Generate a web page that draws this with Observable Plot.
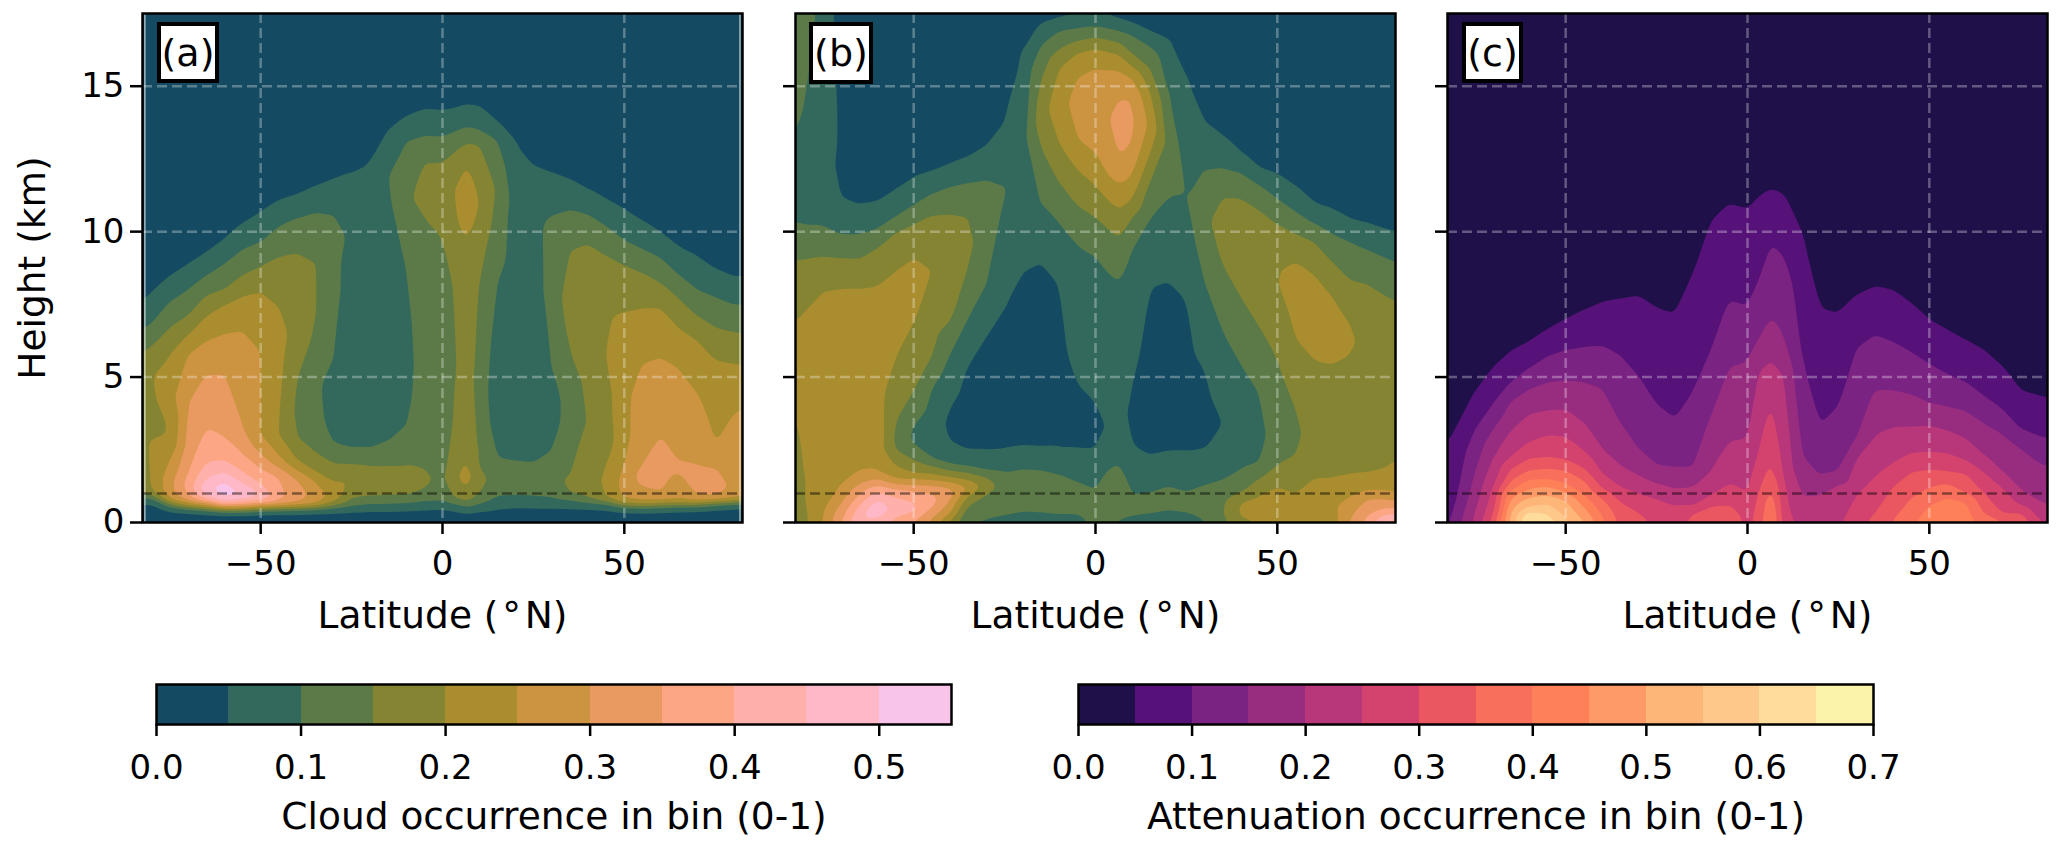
<!DOCTYPE html>
<html><head><meta charset="utf-8">
<style>
html,body{margin:0;background:#fff;font-family:"DejaVu Sans",sans-serif}
#page{position:relative;width:2067px;height:845px;overflow:hidden}
.tag{position:absolute;box-sizing:border-box;background:#fff;border:4px solid #000;font-size:38px;color:#000;display:flex;align-items:center;justify-content:center;line-height:1}
</style>
<script src="https://cdn.jsdelivr.net/npm/d3@7"></script>
<script src="https://cdn.jsdelivr.net/npm/@observablehq/plot@0.6"></script>
</head><body><div id="page"></div>
<script>
const latitudes=[-82.5,-80,-75,-70,-65,-60,-55,-50,-45,-40,-35,-30,-25,-20,-15,-10,-5,0,3,6.5,10,15,20,25,30,35,40,45,50,55,60,65,70,75,80,82.5];
// Each profile: height (km), occurrence (%), height, occurrence, ...
const cloudAll=[
[0,2,.7,5,.85,10,1,15,3,18,5.86,15,6.63,10,7.55,5,9,3,17.5,1],
[0,2,.72,5,.82,10,.92,15,1.1,20,1.5,21,2.6,21,3.2,19,4.2,19,5,20,6.07,15,6.84,10,7.83,5,9.5,3,17.5,1],
[0,2,.45,5,.55,10,.62,15,.7,20,.82,25,1,28,1.5,28,2.08,25,2.7,21,3.2,20,4.4,23,5.75,20,6.7,15,7.6,10,8.4,5,10,3,17.5,1],
[0,2,.4,5,.47,10,.52,15,.58,20,.65,25,.75,30,.95,35,1.3,37,1.68,35,2.5,32,4.1,30,5.8,25,6.44,20,7.1,15,8,10,8.8,5,10.5,3,17.5,1],
[0,2,.36,5,.42,10,.47,15,.52,20,.58,25,.65,30,.72,35,.8,40,.9,45,1.2,49,1.5,45,2.04,40,3.23,35,5.1,30,6.27,25,7.1,20,7.8,15,8.5,10,9.2,5,11,3,17.5,1],
[0,2,.33,5,.38,10,.42,15,.46,20,.5,25,.55,30,.6,35,.66,40,.72,45,.85,50,1.1,53,1.4,50,1.73,45,2.13,40,2.94,35,5.1,30,6.5,25,7.5,20,8,15,8.9,10,9.65,5,12,3,17.5,1],
[0,2,.33,5,.38,10,.42,15,.46,20,.5,25,.56,30,.62,35,.7,40,.78,45,.95,49,1.1,50,1.2,47,1.33,45,1.73,40,2.37,35,3.3,30,6.6,25,7.8,20,8.5,15,9.4,10,10.2,5,12,3,17.5,1],
[0,2,.36,5,.41,10,.45,15,.5,20,.54,25,.6,30,.67,35,.75,40,.9,45,1.33,40,1.85,35,2.37,30,3,25,5.9,25,7.94,20,8.8,15,9.65,10,10.6,5,12.5,3,17.5,1],
[0,2,.38,5,.43,10,.47,15,.52,20,.56,25,.62,30,.7,35,1,36.5,1.56,35,1.88,30,2.3,25,3,20,4,20.5,6,22,7.4,20,9.15,15,10.2,10,11,5,13,3,17.5,1],
[0,3,.4,5,.44,10,.48,15,.53,20,.58,25,.65,30,1,33,1.48,30,1.8,25,2.13,20,2.94,15,4,14,4.9,15,7,18,9.3,15,10.5,10,11.2,5,13,3,17.5,1],
[0,3,.42,5,.47,10,.5,15,.55,20,.6,25,.8,28,1.2,26,1.45,25,1.73,20,2.42,15,3,12,5,11,6,14,7.2,15.2,8.9,15.2,9.5,13,10.7,10,11.5,5,13.5,3,17.5,1],
[0,3,.42,5,.5,10,.56,15,.7,20,1,24,1.39,20,2.04,15,2.7,10,4,8,5.7,10,8,12,9.5,12,10.6,10,11.75,5,13.5,3,17.5,1],
[0,3,.44,5,.55,10,.8,15,1.5,19,2.02,15,2.52,10,4,7,8,7,10,9,12,5,14,3,17.5,1],
[0,3,.45,5,.62,10,.87,15,1.4,18,1.96,15,2.52,10,4,6.5,8,7,11,7,12.3,5,14,3,17.5,1],
[0,3,.45,5,.62,10,.9,15,1.4,18,1.96,15,2.78,10,4,6.5,8,7.5,11,9,12,9.8,13.4,5,15,3,17.5,1],
[0,3,.47,5,.65,10,.93,15,1.4,19,1.94,15,3.34,10,5,8.5,7,9,8.8,10,11,14,13.1,10,13.9,5,15.5,3,17.5,1],
[0,3,.5,5,.7,10,1.16,15,1.5,16,1.79,15,3,13,6,12,8,13,10.5,15,11.5,17,12.4,15,13.3,10,14.15,5,16,3,17.5,1],
[0,3,.53,5,.7,10,1.5,14,3,12,6,12,8,13,9.86,15,11,17.5,12.4,15,13.27,10,14.1,5,16,3,17.5,1],
[0,3,.47,5,.64,10,.85,15,1.5,18.5,2.5,16.5,3.86,15,5.5,14,8.1,15,10,18,11.5,19.5,12.7,15,13.4,10,14.15,5,16,3,17.5,1],
[0,3,.36,5,.55,10,.67,15,1.16,20,1.6,22.5,2.2,20,3,18.5,5,18,8,19,9.7,20,11,24,12.3,20,13.05,15,13.6,10,14.3,5,16,3,17.5,1],
[0,3,.44,5,.6,10,.99,15,1.5,17,1.9,15,2.7,14.5,5,13,6.5,14,8.1,15,10,18,11,20,12,18,13,15,13.5,10,14.25,5,16,3,17.5,1],
[0,3,.5,5,.87,10,1.5,13,2.2,10,4,7,6,8,8.25,10,10,13,11.5,14.5,13.15,10,13.7,5,15.5,3,17.5,1],
[0,3,.56,5,.9,10,1.5,13,2.08,10,4,6.5,8,7,11,8,13,5,15,3,17.5,1],
[0,3,.55,5,.87,10,1.5,13,2.02,10,4,6.5,8,7,11,7.5,12.25,5,14,3,17.5,1],
[0,3,.56,5,.82,10,1.5,13.5,2.43,10,4,7,5.44,10,8,12.5,9.5,12.5,10.56,10,12,5,14,3,17.5,1],
[0,3,.55,5,.76,10,.99,15,1.5,16,1.62,15,3,13,4.5,13,5.86,15,7.5,17,9.37,15,10.77,10,11.75,5,13.5,3,17.5,1],
[0,3,.55,5,.68,10,.8,15,1.5,18,3,16,3.5,15.2,5,16,7.5,18.5,9.62,15,10.6,10,11.4,5,13,3,17.5,1],
[0,3,.52,5,.62,10,.72,15,.82,20,1.3,21,1.9,20,3,17,4,18,5.8,20,7.5,19,9.23,15,10.2,10,11.05,5,13,3,17.5,1],
[0,3,.45,5,.52,10,.58,15,.66,20,.78,25,1.3,27,2.08,25,3,24,5,24,6.2,22,7.27,20,8.88,15,9.7,10,10.7,5,12.5,3,17.5,1],
[0,3,.43,5,.5,10,.56,15,.62,20,.72,25,1.22,30,1.6,32,2.02,30,3,27,5.46,25,7.4,20,8.6,15,9.4,10,10.3,5,12,3,17.5,1],
[0,3,.45,5,.52,10,.58,15,.65,20,.75,25,1.04,30,2,33,3,30,5.7,25,7.4,20,8.25,15,9.1,10,9.9,5,12,3,17.5,1],
[0,3,.48,5,.54,10,.6,15,.67,20,.75,25,1.4,28,1.85,31,2.1,30,3,27,5.33,25,6.7,20,7.7,15,8.5,10,9.4,5,11,3,17.5,1],
[0,3,.5,5,.55,10,.6,15,.66,20,.74,25,.93,30,1.5,33,1.96,30,3,28,4.55,25,6.28,20,7.1,15,8,10,9.1,5,11,3,17.5,1],
[0,3,.55,5,.6,10,.65,15,.7,20,.77,25,.9,30,1.3,33,1.85,30,2.7,25,4,23,5.6,20,6.7,15,7.75,10,8.67,5,10,3,17.5,1],
[0,3,.6,5,.64,10,.68,15,.72,20,.8,25,1.2,29,2.5,27,3.74,25,4.6,23,5.46,20,6.56,15,7.5,10,8.4,5,10,3,17.5,1],
[0,3,.62,5,.66,10,.7,15,.74,20,.82,25,1.2,28,2.5,27,3.97,25,4.6,23,5.44,20,6.5,15,7.5,10,8.4,5,10,3,17.5,1]
];
const cloudIce=[
[17.5,13,13.3,10,11.5,8,10.3,10,9.05,15,7,20,5,21,3.76,20,2,18,0,17],
[17.5,13,14.3,10,12.5,8,10.2,10,9.05,15,7.3,20,4,22,1,20,0,19],
[17.5,8,12,6,10.2,10,9.15,15,8,20,5,23,2.5,21,1.5,23,.5,24,0,25],
[17.5,3,12.5,4.5,11.15,5,9.9,10,9.1,15,8.1,20,5,23,2.5,23,1.2,25,.64,30,.15,34,0,34],
[17.5,3,11.5,4,10.9,5,9.9,10,9.07,15,8.1,20,5,24,2.5,24,1.7,25,1.33,30,.95,35,.59,40,.15,44.5,0,45],
[17.5,3,11.5,4,11,5,10.07,10,9.45,15,8.2,20,5,23,2.5,23,1.77,25,1.5,30,1.27,35,1.04,40,.81,45,.45,49,.15,45,0,43],
[17.5,3,12,4,11.4,5,10.5,10,10,15,8.7,20,6.8,22,5.66,20,3.4,15,2.9,14,2.5,15,1.96,20,1.5,25,1.3,30,1.16,35,.87,40,.45,44,.18,40,0,38],
[17.5,3,13,4,11.8,5,10.9,10,10.27,15,9.13,20,8,21.5,6.85,20,4.47,15,3.34,10,2.95,9,2.65,10,2.16,15,1.68,20,1.5,25,1.27,30,1.1,35,.7,40,.45,41.5,.35,40,.05,35,0,35],
[17.5,3,13,4,12,5,11.3,10,10.6,15,8.7,20,7,18,5.66,15,4.6,10,3.5,7.5,2.16,10,1.96,15,1.65,20,1.47,25,1.27,30,1,35,.7,37,.5,35,.16,30,0,29],
[17.5,3,13.5,4,12.25,5,11.56,10,10.64,15,9,19,7.5,17,6.9,15,5.8,10,4.8,6.5,3.97,5,3.3,4,2.75,5,1.98,10,1.79,15,1.54,20,1.39,25,1.22,30,.9,32,.76,30,.28,25,.1,20,0,19],
[17.5,3,13.5,4,12.5,5,11.7,10,10.53,15,9.7,16.5,8.8,15,7.06,10,5.5,5,4,3.5,2.43,5,1.9,10,1.72,15,1.45,20,1.22,25.2,1.16,25,.93,20,.59,15,.2,10.5,0,10],
[17.5,3,14,4,12.9,5,11.8,10,10.8,13,9.5,11.5,8.2,10,7,7,6.5,5,4,3,2.43,5,1.77,10,1.56,15,1.3,18,.99,15,.4,11,.1,10,0,9.5],
[17.5,3,15,4,13.7,5,11.5,10.2,9.5,8,7.49,5,5,3,2.47,5,1.73,10,1.2,13.5,.22,10,0,8],
[17.5,3,16.1,5,13,8,9.5,7,8.68,5,5,3,2.57,5,1.85,10,1.2,13,.36,10,0,8],
[17.5,4,17.1,5,16.4,10,15.2,15,14,18,12.9,15,11,10,9.8,6,9,5,5,3,2.53,5,1.81,10,1.2,13,.32,10,0,8],
[17.5,4.5,17.3,5,16.9,10,16.27,15,15.6,20,14.5,23,13.05,20,11.7,15,10.3,10,9.2,7,8.26,5,5,3.5,2.53,5,1.65,10,1.1,12.5,.24,10,0,8],
[17.5,4.7,17.4,5,17,10,16.55,15,16.15,20,15.35,25,14.3,27,13.17,25,12.13,20,10.9,15,9.55,10,7,7,4.7,5,3.5,3.5,2.53,5,1.39,10,.9,12,.24,10,0,8],
[17.5,4.8,17.44,5,17.07,10,16.67,15,16.3,20,15.67,25,14,28,12.65,25,11.6,20,10.5,15,9.2,10,7,7,4.1,5,3.2,3.5,2.53,5,1.13,10,.6,12,0,11],
[17.5,4.8,17.4,5,17,10,16.6,15,16.2,20,15.6,25,14,29,12,25,11.15,20,10.16,15,8.7,10,6,7,4,6,3.3,5.2,2.5,7.5,1.77,10,1,13,.4,12,0,10.5],
[17.5,4,17.3,5,16.9,10,16.5,15,16.1,20,15.55,25,14.6,30,13.5,33,12.6,30,11.6,25,10.75,20,9.78,15,8.3,10,6,7,4,6.5,3,8,2.04,10,1.2,13,.6,13,.1,10,0,9.5],
[17.5,3.5,17.15,5,16.75,10,16.1,15,15.7,20,15.3,25,14.6,30,13.8,31,13.05,30,11.9,25,11.1,20,10.47,15,9.4,10,7,7,4.6,5,3.5,4,2.64,5,1.5,8.5,.93,10,.55,12,.24,10,0,8.5],
[17.5,3,16.84,5,16.38,10,15.58,15,14.8,20,13.7,24,12.7,20,11.8,15,10.5,10,9,6.5,8.1,5,5,3,2.25,5,1.5,8.5,.99,10,.65,12,.32,10,0,8],
[17.5,3,16.55,5,14.77,10,13,13.5,11.2,10,9.5,6.5,8.33,5,5,3,2.39,5,1.24,10,.8,12,.44,10,0,8],
[17.5,3.5,15.17,5,13,7.5,11.2,9.8,9,7,7.7,5,5,3.5,2.39,5,1.04,10,.7,12,.36,10,0,8],
[17.5,3.5,13.67,5,12.12,10,10.5,13.5,8.26,10,6.8,7,5.24,5,3.8,3.5,2.5,5,1.27,10,.7,13,.09,10,0,9.5],
[17.5,3.5,13.2,5,12.2,10,11.2,15,10,18,8.8,15,6.57,10,5,7.5,3.4,5,2.5,6,1.45,10,.8,14,.2,14.5,0,13],
[17.5,3,12.6,5,12.05,10,11.18,15,9.7,18,7.7,15,5.45,10,4,8,2.5,8.5,1.81,10,1,15,.76,20,.4,21,.13,20,0,18],
[17.5,3,12.05,5,11.63,10,10.79,15,9,18.5,6.7,15,4.47,10,3,8.5,2.02,10,1.5,15,.93,20,.4,22,0,20],
[17.5,3,11.84,5,11.14,10,10.3,15,8.82,20,8.26,20,7,17,5.59,15,3,12.5,1.99,15,1.22,20,.6,24,0,22],
[17.5,3,11.42,5,10.7,10,9.94,15,9.03,20,7.5,22,6.3,20,5,17,3.97,15,3.1,14,2.3,15,.99,20,.5,23,0,21],
[17.5,3,10.85,5,10.3,10,9.66,15,8.6,20,7,22.5,5.59,20,3,17,1.5,20,.6,23.5,0,22],
[17.5,3,10.65,5,9.94,10,8.96,15,7.84,20,6.5,22,5.45,20,3,17,1.5,20,.6,24,0,23],
[17.5,3,10.3,5,9.66,10,8.33,15,6.85,20,6.3,21,5.8,20,3,17,1.62,20,.87,25,.45,28,.12,30,0,30],
[17.5,3,10.15,5,9.38,10,8.2,15,6,18,3,17,1.68,20,1.1,25,.82,30,.24,35,0,37],
[17.5,3,9.94,5,9.1,10,7.84,15,5,18,3,17.5,1.85,20,1.08,25,.79,30,.47,35,.28,40,.09,45,0,46],
[17.5,3,9.87,5,8.96,10,7.65,15,5,18,3,18,2.14,20,.99,25,.76,30,.47,35,.3,40,.09,45,0,48]
];
const attenuation=[
[17.5,1,5,2,2.7,5,1,7,0,9],
[17.5,1,5,2.5,3.2,5,.76,10,0,13],
[17.5,1,6,2.5,4.43,5,3.17,10,1.68,15,.3,20,0,21],
[17.5,1,7,2.5,5.27,5,4.05,10,3.2,15,2.19,20,1.16,25,.18,30,0,33],
[17.5,1,7.5,3,5.84,5,4.82,10,4.19,15,3.17,20,2.25,25,1.85,30,1.45,35,1.1,40,.87,45,.41,50,0,52],
[17.5,1,8,3,6.15,5,5.31,10,4.6,15,3.72,20,2.77,25,2.19,30,1.79,35,1.47,40,1.16,45,.85,50,.55,55,.36,60,.16,65,0,67],
[17.5,1,8.5,3,6.57,5,5.73,10,4.82,15,3.86,20,3,25,2.23,30,1.85,35,1.47,40,1.24,45,.93,50,.64,55,.3,60,0,63],
[17.5,1,9,3,6.92,5,5.94,10,4.89,15,3.88,20,2.94,25,2.14,30,1.79,35,1.33,40,1.04,45,.76,50,.18,55,0,56],
[17.5,1,9,3,7.25,5,6.04,10,4.82,15,3.4,20,2.48,25,1.85,30,1.45,35,.93,40,.53,45,.07,50,0,50.5],
[17.5,1,9.5,3,7.53,5,6.08,10,4.6,15,2.5,20,1.68,25,1.16,30,.82,35,.24,40,0,41],
[17.5,1,9.5,3,7.65,5,5.73,10,3.41,15,1.95,20,1.22,25,.7,30,0,34],
[17.5,1,9.5,3,7.77,5,5.03,10,2.5,15,1.62,20,.99,25,.36,30,0,31],
[17.5,1,9.5,3,7.35,5,4.04,10,1.94,15,1.33,20,.82,25,0,29.5],
[17.5,1,9.5,3,7.16,5,3.55,10,1.87,15,1.16,20,.59,25,0,28],
[17.5,1,10.5,3,8.54,5,4.47,10,1.87,15,1.22,20,.53,25,.36,30,0,31],
[17.5,1,12,3,10.37,5,5.87,10,3.7,15,1.79,20,.93,25,.59,30,0,33.5],
[17.5,1,12.5,3,10.97,5,7.63,10,5.38,15,2.78,20,1.33,25,.62,30,0,34],
[17.5,1,12,3,10.79,5,7.42,10,5.52,15,2.85,20,1,25,.3,28,0,28],
[17.5,1,12.5,3,11.18,5,8.26,10,6.29,15,5.17,20,2.48,25,.99,30,0,32],
[17.5,1,12.8,3,11.46,5,9.59,10,7.06,15,5.59,20,4.14,25,2.08,30,1.22,35,.3,40,0,41],
[17.5,1,12.5,3,11.28,5,9.17,10,6.4,15,5.03,20,1.45,25,0,28],
[17.5,1,11.5,3,9.94,5,5.59,10,2.29,15,.93,20,0,23],
[17.5,1,9.5,3,7.35,5,3.34,10,1.59,15,.99,20,0,23],
[17.5,1,9.5,3,7.16,5,3.97,10,1.73,15,1.33,20,0,24],
[17.5,1,9.5,3,7.77,5,6,10,2.85,15,2.25,20,.93,25,0,29],
[17.5,1,10,3,8.08,5,6.46,10,4.54,15,3,20,1.56,25,.3,30,0,31],
[17.5,1,10,3,7.95,5,6.22,10,4.54,15,3.27,20,2.02,25,1.22,30,.07,35,0,35.5],
[17.5,1,9.5,3,7.49,5,5.87,10,4.4,15,3.3,20,2.37,25,1.73,30,.82,35,0,39],
[17.5,1,9,3,6.92,5,5.45,10,4.11,15,3.34,20,2.43,25,1.81,30,1.19,35,.59,40,0,43],
[17.5,1,8.5,3,6.57,5,5.1,10,3.97,15,3.17,20,2.37,25,1.75,30,1.33,35,.87,40,0,45],
[17.5,1,8,3,6.22,5,4.82,10,3.83,15,2.88,20,2.14,25,1.68,30,.99,35,.76,40,0,43],
[17.5,1,8,3,5.87,5,4.33,10,3.41,15,2.31,20,1.73,25,.99,30,.3,35,0,39],
[17.5,1,7.5,3,5.31,5,3.9,10,3.06,15,1.73,20,1.22,25,.3,30,.1,35,0,35],
[17.5,1,7,3,4.47,5,3.2,10,2.57,15,1.1,20,.59,25,.35,30,.1,33,0,34],
[17.5,1,7,3,4.3,5,2.95,10,2.08,15,.7,20,.12,25,0,27],
[17.5,1,7,3,4.21,5,2.89,10,1.94,15,.59,20,0,24]
];
const cloudLevels=[0,.05,.1,.15,.2,.25,.3,.35,.4,.45,.5,.55];
const attenLevels=[0,.05,.1,.15,.2,.25,.3,.35,.4,.45,.5,.55,.6,.65,.7];
const cloudColors=["#154b62","#33695c","#5c7a48","#858432","#aa8d2e","#cc9341","#e89a60","#fca686","#ffb0aa","#ffb8c8","#f8c4ea"];
const attenColors=["#20104a","#561278","#7b2383","#982d80","#b8367a","#d3436e","#eb5760","#f8705c","#fe8059","#fe9a68","#feb678","#fec88a","#fedc9c","#fcf3aa"];
const latTicks=[-50,0,50];
const heightTicks=[0,5,10,15];
const gridHeights=[5,10,15];
const cloudTicks=[0,.1,.2,.3,.4,.5];
const attenTicks=[0,.1,.2,.3,.4,.5,.6,.7];

const page=document.getElementById("page");
const font={fontFamily:"DejaVu Sans",fontSize:"34px",overflow:"visible",background:"transparent"};
const labelSize=37.5;
const rows=profiles=>latitudes.flatMap((lat,i)=>{
  const p=profiles[i],out=[];
  for(let k=0;k<p.length;k+=2) out.push({lat,height:p[k],value:p[k+1]/100});
  return out;
});
// Barycentric spatial interpolator for Plot.contour: triangulates with latitude stretched so
// that triangles join neighbouring profiles only, level to level.
const profileMesh=(index,w,h,X,Y,V)=>{
  const k=14,{triangles}=d3.Delaunay.from(index,i=>X[i]*k,i=>Y[i]);
  const W=new Float64Array(w*h).fill(NaN);
  for(let t=0;t<triangles.length;t+=3){
    const a=index[triangles[t]],b=index[triangles[t+1]],c=index[triangles[t+2]];
    const ax=X[a],ay=Y[a],bx=X[b],by=Y[b],cx=X[c],cy=Y[c];
    const z=(by-cy)*(ax-cx)+(cx-bx)*(ay-cy);
    if(!z) continue;
    const x0=Math.max(0,Math.floor(Math.min(ax,bx,cx))),x1=Math.min(w-1,Math.ceil(Math.max(ax,bx,cx)));
    const y0=Math.max(0,Math.floor(Math.min(ay,by,cy))),y1=Math.min(h-1,Math.ceil(Math.max(ay,by,cy)));
    for(let y=y0;y<=y1;y++)for(let x=x0;x<=x1;x++){
      const px=x+.5,py=y+.5;
      const ga=((by-cy)*(px-cx)+(cx-bx)*(py-cy))/z;
      const gb=((cy-ay)*(px-cx)+(ax-cx)*(py-cy))/z;
      const gc=1-ga-gb;
      if(ga<-1e-9||gb<-1e-9||gc<-1e-9) continue;
      W[x+y*w]=ga*V[a]+gb*V[b]+gc*V[c];
    }
  }
  return W;
};
function panel(profiles,levels,colors,left,tag,tagBox,showY,edges){
  const fig=Plot.plot({
    width:750,height:652,marginLeft:140,marginRight:10,marginTop:13,marginBottom:130,
    style:font,
    x:{domain:[-82.5,82.5]},
    y:{domain:[0,17.5]},
    color:{type:"threshold",domain:levels.slice(1,-1),range:colors},
    marks:[
      Plot.contour(rows(profiles),{x:"lat",y:"height",fill:"value",interpolate:profileMesh,thresholds:levels.slice(0,-1),pixelSize:1,blur:3,stroke:"none"}),
      Plot.ruleX(edges,{stroke:"white",strokeOpacity:.6,strokeWidth:1.5}),
      Plot.ruleX(latTicks,{stroke:"white",strokeOpacity:.3,strokeWidth:2.5,strokeDasharray:"10,5"}),
      Plot.ruleY(gridHeights,{stroke:"white",strokeOpacity:.3,strokeWidth:2.5,strokeDasharray:"10,5"}),
      Plot.ruleY([1],{stroke:"black",strokeOpacity:.45,strokeWidth:2.5,strokeDasharray:"10,5"}),
      Plot.frame({stroke:"black",strokeWidth:2.5}),
      Plot.axisX({ticks:latTicks,tickSize:12,tickPadding:16,strokeWidth:2.5,tickFormat:d=>String(d).replace("-","\u2212"),label:null}),
      Plot.axisX({ticks:[],tickSize:0,label:"Latitude (\u200a\u00b0\u200aN)",labelAnchor:"center",labelArrow:"none",labelOffset:105,fontSize:labelSize}),
      Plot.axisY({ticks:heightTicks,tickSize:12,tickPadding:6,strokeWidth:2.5,tickFormat:showY?(d=>String(d)):(()=>""),label:null}),
      showY?Plot.axisY({ticks:[],tickSize:0,label:"Height (km)",labelAnchor:"center",labelArrow:"none",labelOffset:124,fontSize:labelSize}):null
    ]
  });
  fig.style.position="absolute";fig.style.left=left+"px";fig.style.top="0px";
  page.appendChild(fig);
  const t=document.createElement("div");t.className="tag";t.textContent=tag;
  t.style.left=tagBox[0]+"px";t.style.top=tagBox[1]+"px";t.style.width=tagBox[2]+"px";t.style.height=tagBox[3]+"px";
  page.appendChild(t);
}
panel(cloudAll,cloudLevels,cloudColors,2,"(a)",[157,22,62,61],true,[-81.85,81.8]);
panel(cloudIce,cloudLevels,cloudColors,655,"(b)",[809,22,64,62],false,[]);
panel(attenuation,attenLevels,attenColors,1307,"(c)",[1462,22,61,61],false,[]);

function bar(levels,colors,ticks,left,label){
  const w=795;
  const steps=colors.map((c,i)=>({x1:levels[i],x2:levels[i+1],v:levels[i]}));
  const fig=Plot.plot({
    width:w+200,height:175,marginLeft:100,marginRight:100,marginTop:14,marginBottom:121,
    style:font,
    x:{domain:[levels[0],levels[levels.length-1]]},
    y:{domain:[0,1],axis:null},
    color:{type:"threshold",domain:levels.slice(1,-1),range:colors},
    marks:[
      Plot.rect(steps,{x1:"x1",x2:"x2",y1:0,y2:1,fill:"v",shapeRendering:"crispEdges"}),
      Plot.frame({stroke:"black",strokeWidth:2.5}),
      Plot.axisX({ticks,tickSize:12,tickPadding:18,strokeWidth:2.5,tickFormat:d=>d.toFixed(1),label:null}),
      Plot.axisX({ticks:[],tickSize:0,label,labelAnchor:"center",labelArrow:"none",labelOffset:104,fontSize:labelSize})
    ]
  });
  fig.style.position="absolute";fig.style.left=(left-100)+"px";fig.style.top="670px";
  page.appendChild(fig);
}
bar(cloudLevels,cloudColors,cloudTicks,156,"Cloud occurrence in bin (0-1)");
bar(attenLevels,attenColors,attenTicks,1078,"Attenuation occurrence in bin (0-1)");
</script></body></html>
